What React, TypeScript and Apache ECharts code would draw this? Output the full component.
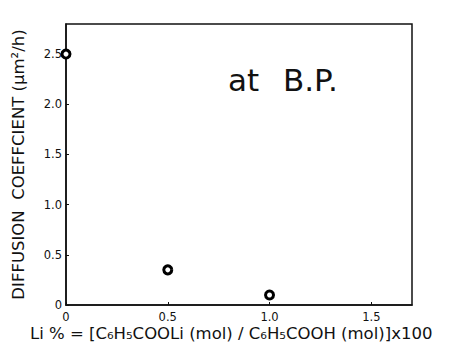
import React, { useEffect, useRef } from "react";
import * as echarts from "echarts";

const liPercent = [0, 0.5, 1.0];
const diffusion = [2.5, 0.35, 0.1];
const xTicks = [0, 0.5, 1.0, 1.5];
const yTicks = [0, 0.5, 1.0, 1.5, 2.0, 2.5];

export default function App() {
  const ref = useRef<HTMLDivElement>(null);
  useEffect(() => {
    document.body.style.margin = "0";
    if (!ref.current) return;
    const chart = echarts.init(ref.current, null, { renderer: "svg" });
    const font = "DejaVu Sans";
    chart.setOption({
      animation: false,
      backgroundColor: "#ffffff",
      grid: { left: 66, right: 42, top: 24, bottom: 50, containLabel: false, outerBoundsMode: "none" },
      xAxis: {
        type: "value",
        min: 0,
        max: 1.7,
        interval: 0.5,
        axisLine: { show: true, lineStyle: { color: "#111", width: 1.5 } },
        axisTick: { show: true, inside: true, length: 3, lineStyle: { color: "#111" } },
        axisLabel: {
          fontFamily: font,
          fontSize: 11.5,
          color: "#111",
          margin: 6,
          showMaxLabel: false,
          formatter: (v: number) => (xTicks.includes(v) ? (v === 0 ? "0" : v.toFixed(1)) : ""),
        },
        splitLine: { show: false },
      },
      yAxis: {
        type: "value",
        min: 0,
        max: 2.8,
        interval: 0.5,
        name: "DIFFUSION  COEFFCIENT (μm²/h)",
        nameLocation: "middle",
        nameRotate: 90,
        nameGap: 39,
        nameTextStyle: { fontFamily: font, fontSize: 16.5, color: "#111" },
        axisLine: { show: true, lineStyle: { color: "#111", width: 1.5 } },
        axisTick: { show: true, inside: true, length: 3, lineStyle: { color: "#111" } },
        axisLabel: {
          fontFamily: font,
          fontSize: 11.5,
          color: "#111",
          margin: 4,
          showMaxLabel: false,
          formatter: (v: number) => (yTicks.includes(v) ? (v === 0 ? "0" : v.toFixed(1)) : ""),
        },
        splitLine: { show: false },
      },
      graphic: [
        {
          type: "rect",
          shape: { x: 66, y: 24, width: 454 - 66 - 42, height: 355 - 24 - 50 },
          style: { fill: "none", stroke: "#111", lineWidth: 1.5 },
          silent: true,
        },
        {
          type: "text",
          left: 228,
          top: 64,
          style: { text: "at", fontFamily: font, fontSize: 31, fill: "#111" },
        },
        {
          type: "text",
          left: 283,
          top: 64,
          style: { text: "B.P.", fontFamily: font, fontSize: 31, fill: "#111" },
        },
        {
          type: "text",
          left: 30,
          top: 325,
          style: {
            text: "Li % = [C₆H₅COOLi (mol) / C₆H₅COOH (mol)]x100",
            fontFamily: font,
            fontSize: 16.5,
            fill: "#111",
          },
        },
      ],
      series: [
        {
          type: "scatter",
          data: liPercent.map((x, i) => [x, diffusion[i]]),
          symbol: "circle",
          symbolSize: 8,
          itemStyle: { color: "#ffffff", borderColor: "#000", borderWidth: 3, opacity: 1 },
          z: 5,
        },
      ],
    });
    return () => chart.dispose();
  }, []);
  return <div ref={ref} style={{ width: 454, height: 355 }} />;
}
